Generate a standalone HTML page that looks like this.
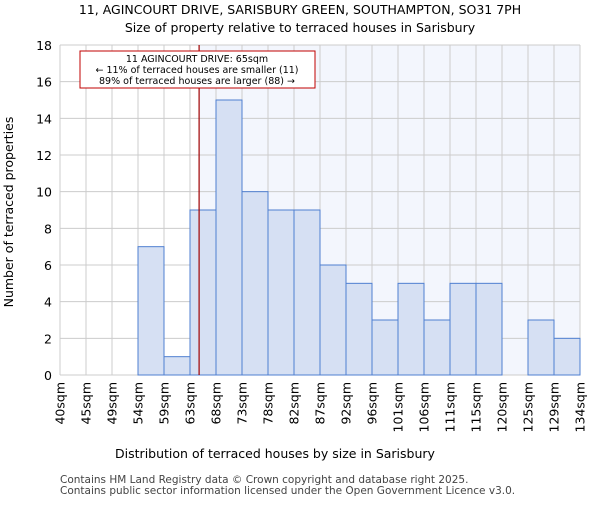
<!DOCTYPE html>
<html><head><meta charset="utf-8"><style>body{margin:0;background:#fff}svg{font-family:"DejaVu Sans","Liberation Sans",sans-serif}</style></head>
<body>
<svg id="c" width="600" height="500">
<text x="300" y="14" text-anchor="middle" font-size="12.5">11, AGINCOURT DRIVE, SARISBURY GREEN, SOUTHAMPTON, SO31 7PH</text>
<text x="300" y="32" text-anchor="middle" font-size="12.5">Size of property relative to terraced houses in Sarisbury</text>
<g id="plot"></g>
<text x="275" y="458" text-anchor="middle" font-size="12.5">Distribution of terraced houses by size in Sarisbury</text>
<text transform="translate(13,212) rotate(-90)" text-anchor="middle" font-size="12.5">Number of terraced properties</text>
<text x="60" y="483" font-size="10.5" fill="#444">Contains HM Land Registry data © Crown copyright and database right 2025.</text>
<text x="60" y="494" font-size="10.5" fill="#444">Contains public sector information licensed under the Open Government Licence v3.0.</text>
</svg>
<script>
const categories=["40sqm","45sqm","49sqm","54sqm","59sqm","63sqm","68sqm","73sqm","78sqm","82sqm","87sqm","92sqm","96sqm","101sqm","106sqm","111sqm","115sqm","120sqm","125sqm","129sqm","134sqm"];
const counts=[0,0,0,7,1,9,15,10,9,9,6,5,3,5,3,5,5,0,3,2];
const yTicks=[0,2,4,6,8,10,12,14,16,18];
const markerBin=5.35;
const NS="http://www.w3.org/2000/svg";
const X0=60,X1=580,Y0=375,Y1=45,n=counts.length;
const bw=(X1-X0)/n;
const xs=i=>X0+i*bw;
const ys=v=>Y0-(v/18)*(Y0-Y1);
const g=document.getElementById('plot');
function mk(t,a){const e=document.createElementNS(NS,t);for(const k in a)e.setAttribute(k,a[k]);g.appendChild(e);return e;}
const mx=xs(markerBin);
let e=mk('rect',{x:mx,y:Y1,width:X1-mx,height:Y0-Y1,fill:'#f3f6fd'});


for(let i=0;i<=n;i++){e=mk('line',{x1:xs(i),x2:xs(i),y1:Y1,y2:Y0,stroke:'#ccc','stroke-width':1});

}
yTicks.forEach(t=>{e=mk('line',{x1:X0,x2:X1,y1:ys(t),y2:ys(t),stroke:'#ccc','stroke-width':1});


e=mk('text',{x:X0-8,y:ys(t)+5,'text-anchor':'end','font-size':12.5});e.textContent=t;

});
counts.forEach((v,i)=>{if(v<=0)return;e=mk('rect',{x:xs(i),y:ys(v),width:bw,height:Y0-ys(v),fill:'#d6e0f3',stroke:'#4f7fd0','stroke-width':1});

});
categories.forEach((c,i)=>{e=mk('text',{transform:`translate(${xs(i)+4.5},382) rotate(-90)`,'text-anchor':'end','font-size':12.5});e.textContent=c;

});
e=mk('line',{x1:mx,x2:mx,y1:Y1,y2:Y0,stroke:'#a00000','stroke-width':1.2});


e=mk('rect',{x:80,y:51,width:235,height:37,fill:'#fff',stroke:'#c00000','stroke-width':1});


["11 AGINCOURT DRIVE: 65sqm","← 11% of terraced houses are smaller (11)","89% of terraced houses are larger (88) →"].forEach((t,k)=>{e=mk('text',{x:197,y:62+k*11,'text-anchor':'middle','font-size':9.5});e.textContent=t;

});
</script>
</body></html>
